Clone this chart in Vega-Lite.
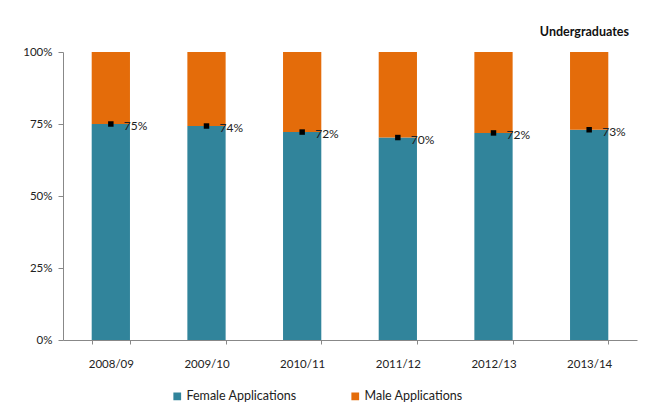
{
  "$schema": "https://vega.github.io/schema/vega-lite/v6.json",
  "width": 574,
  "height": 288,
  "autosize": "none",
  "padding": {"left": 63, "top": 52, "right": 9, "bottom": 76},
  "background": "white",
  "config": {
    "font": "Lato",
    "view": {"stroke": null},
    "axis": {"labelFont": "Lato", "labelFontSize": 11.5, "labelColor": "#222", "domainColor": "#888", "tickColor": "#888", "grid": false, "title": null}
  },
  "title": {"text": "Undergraduates", "anchor": "end", "fontSize": 12.5, "fontWeight": "bold", "font": "Lato", "color": "#111", "offset": 8, "dx": -8},
  "data": {"values": [
    {"year": "2008/09", "gender": "Female Applications", "share": 0.750, "label": "75%"},
    {"year": "2008/09", "gender": "Male Applications", "share": 0.250},
    {"year": "2009/10", "gender": "Female Applications", "share": 0.743, "label": "74%"},
    {"year": "2009/10", "gender": "Male Applications", "share": 0.257},
    {"year": "2010/11", "gender": "Female Applications", "share": 0.722, "label": "72%"},
    {"year": "2010/11", "gender": "Male Applications", "share": 0.278},
    {"year": "2011/12", "gender": "Female Applications", "share": 0.703, "label": "70%"},
    {"year": "2011/12", "gender": "Male Applications", "share": 0.297},
    {"year": "2012/13", "gender": "Female Applications", "share": 0.719, "label": "72%"},
    {"year": "2012/13", "gender": "Male Applications", "share": 0.281},
    {"year": "2013/14", "gender": "Female Applications", "share": 0.730, "label": "73%"},
    {"year": "2013/14", "gender": "Male Applications", "share": 0.270}
  ]},
  "layer": [
    {
      "mark": {"type": "bar"},
      "encoding": {
        "x": {"field": "year", "type": "nominal", "scale": {"paddingInner": 0.6, "paddingOuter": 0.3}, "axis": {"labelAngle": 0, "labelPadding": 14, "tickBand": "extent", "tickSize": 4}},
        "y": {"field": "share", "type": "quantitative", "stack": "zero", "scale": {"domain": [0, 1]}, "axis": {"format": ".0%", "values": [0, 0.25, 0.5, 0.75, 1], "tickSize": 5, "labelPadding": 6}},
        "color": {"field": "gender", "type": "nominal", "scale": {"domain": ["Female Applications", "Male Applications"], "range": ["#31849B", "#E46C0A"]},
          "legend": {"title": null, "orient": "none", "legendX": 108, "legendY": 338, "direction": "horizontal", "symbolType": "square", "symbolSize": 60, "labelFontSize": 12.5, "labelFont": "Lato", "labelColor": "#222", "columnPadding": 52, "symbolOffset": 0, "labelOffset": 3}},
        "order": {"field": "gender", "type": "nominal", "sort": "ascending"}
      }
    },
    {
      "transform": [{"filter": "datum.gender == 'Female Applications'"}],
      "mark": {"type": "point", "shape": "square", "filled": true, "color": "black", "size": 30, "opacity": 1},
      "encoding": {
        "x": {"field": "year", "type": "nominal"},
        "y": {"field": "share", "type": "quantitative"}
      }
    },
    {
      "transform": [{"filter": "datum.gender == 'Female Applications'"}],
      "mark": {"type": "text", "align": "left", "baseline": "middle", "dx": 13, "dy": 2, "fontSize": 12, "font": "Lato", "color": "#222"},
      "encoding": {
        "x": {"field": "year", "type": "nominal"},
        "y": {"field": "share", "type": "quantitative"},
        "text": {"field": "label"}
      }
    }
  ]
}
